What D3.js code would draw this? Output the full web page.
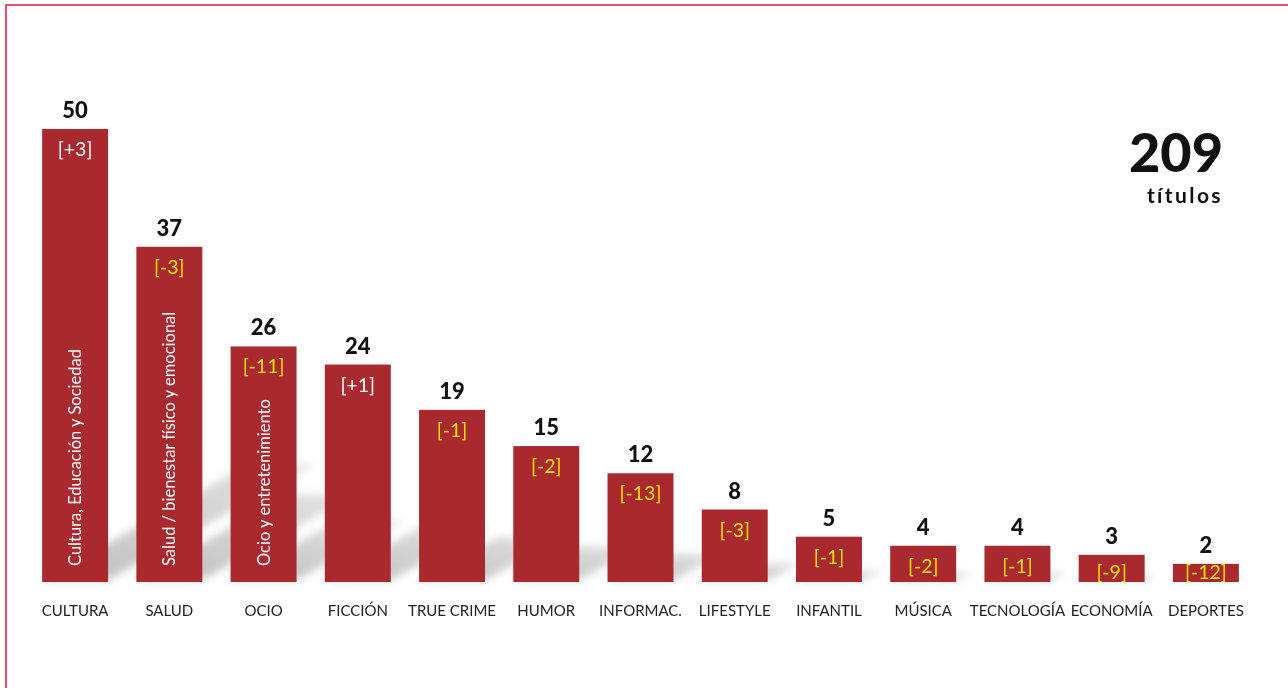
<!DOCTYPE html>
<html>
<head>
<meta charset="utf-8">
<script src="https://cdn.jsdelivr.net/npm/d3@7"></script>
<style>
  html, body { margin:0; padding:0; background:#fff; }
  svg { display:block; font-family: Lato, "Open Sans", sans-serif; }
</style>
</head>
<body>
<svg id="chart" width="1288" height="688"></svg>
<script>
// categories and values
const categories = ['CULTURA','SALUD','OCIO','FICCIÓN','TRUE CRIME','HUMOR','INFORMAC.','LIFESTYLE','INFANTIL','MÚSICA','TECNOLOGÍA','ECONOMÍA','DEPORTES'];
const values = [50, 37, 26, 24, 19, 15, 12, 8, 5, 4, 4, 3, 2];
const changes = ['[+3]','[-3]','[-11]','[+1]','[-1]','[-2]','[-13]','[-3]','[-1]','[-2]','[-1]','[-9]','[-12]'];
const innerLabels = ['Cultura, Educación y Sociedad','Salud / bienestar físico y emocional','Ocio y entretenimiento','','','','','','','','','',''];
const totalLabel = '209';
const totalSub = 'títulos';

const svg = d3.select('#chart');
const W = 1288, H = 688;
const baseY = 582, topY = 129;

// frame (only top + left edge visible in the reference)
svg.append('rect').attr('x',6).attr('y',5).attr('width',W+20).attr('height',H+20)
  .attr('fill','none').attr('stroke','#e0163f').attr('stroke-width',1.5);

const x = d3.scaleBand().domain(categories).range([28, 1253]).paddingInner(0.3).paddingOuter(0.15);
const y = d3.scaleLinear().domain([0, 50]).range([baseY, topY]);

// blurred floor shadow behind each bar
const defs = svg.append('defs');
defs.append('filter').attr('id','blur').attr('x','-20%').attr('y','-20%').attr('width','140%').attr('height','140%')
  .append('feGaussianBlur').attr('stdDeviation',4);
const grad = defs.append('linearGradient').attr('id','shade').attr('x1',0).attr('y1',1).attr('x2',1).attr('y2',0);
grad.append('stop').attr('offset','0%').attr('stop-color','#b5b5b5');
grad.append('stop').attr('offset','100%').attr('stop-color','#dedede');

const shadow = svg.append('g').attr('filter','url(#blur)');
shadow.selectAll('path').data(values).enter().append('path')
  .attr('fill','url(#shade)').attr('opacity',0.85)
  .attr('d',(d,i)=>{
    const x0 = x(categories[i]), x1 = x0 + x.bandwidth();
    const h = (baseY - y(d)) * 0.26, dx = h * 1.75;
    return `M${x0},${baseY-2}L${x1},${baseY-2}L${x1+dx},${baseY-h}L${x0+dx},${baseY-h}Z`;
  });

const bars = svg.append('g');
bars.selectAll('rect').data(values).enter().append('rect')
  .attr('x',(d,i)=>x(categories[i])).attr('y',d=>y(d))
  .attr('width',x.bandwidth()).attr('height',d=>baseY-y(d))
  .attr('fill','#a9292f');

const cx = i => x(categories[i]) + x.bandwidth()/2;

// value on top
svg.append('g').selectAll('text').data(values).enter().append('text')
  .attr('x',(d,i)=>cx(i)).attr('y',d=>y(d)-11)
  .attr('text-anchor','middle').attr('font-size',22).attr('font-weight',900).attr('fill','#111')
  .text(d=>d);

// change vs previous period
svg.append('g').selectAll('text').data(changes).enter().append('text')
  .attr('x',(d,i)=>cx(i)).attr('y',(d,i)=>Math.min(y(values[i])+27, baseY-3))
  .attr('text-anchor','middle').attr('font-size',19.5)
  .attr('fill',d=>d.includes('+') ? '#ffffff' : '#ffe000')
  .text(d=>d);

// rotated descriptions inside the tall bars
svg.append('g').selectAll('text').data(innerLabels).enter().append('text')
  .attr('transform',(d,i)=>`translate(${cx(i)+6},${baseY-16}) rotate(-90)`)
  .attr('font-size',16.5).attr('fill','#fff')
  .text(d=>d);

// category axis
const xAxis = svg.append('g').attr('transform',`translate(0,${baseY})`)
  .call(d3.axisBottom(x).tickSize(0).tickPadding(23));
xAxis.select('.domain').remove();
xAxis.selectAll('text').attr('font-size',15).attr('fill','#222').attr('font-family','Lato, "Open Sans", sans-serif');

// total
svg.append('text').attr('x',1223).attr('y',172).attr('text-anchor','end')
  .attr('font-size',54).attr('font-weight',900).attr('fill','#111').text(totalLabel);
svg.append('text').attr('x',1223).attr('y',203).attr('text-anchor','end')
  .attr('font-size',21).attr('font-weight',700).attr('letter-spacing',2.4).attr('fill','#111').text(totalSub);
</script>
</body>
</html>
